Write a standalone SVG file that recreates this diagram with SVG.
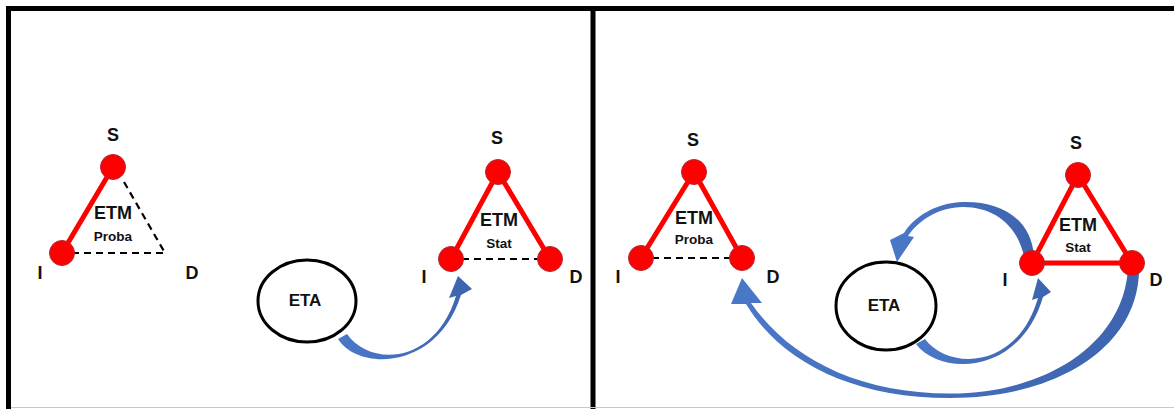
<svg xmlns="http://www.w3.org/2000/svg" width="1174" height="409" viewBox="0 0 1174 409">
<defs>
<style>
.frame{stroke:#000;stroke-width:5;fill:none}
.edge{stroke:#ff0000;stroke-width:5;stroke-linecap:round;fill:none}
.dash{stroke:#000;stroke-width:2.2;stroke-dasharray:7 5;fill:none}
.node{fill:#ff0000;stroke:#b02838;stroke-width:1}
.eta{fill:#fff;stroke:#000;stroke-width:3}
.arrow{fill:url(#blue)}
text{font-family:"Liberation Sans",Arial,sans-serif;font-weight:bold;fill:#111;text-anchor:middle}
.lbl{font-size:18px}
.etm{font-size:18px}
.sub{font-size:13.5px}
.etat{font-size:17px}
</style>
<linearGradient id="blue" x1="0" y1="0" x2="1" y2="0">
<stop offset="0" stop-color="#4a78c8"/>
<stop offset="1" stop-color="#3d64ae"/>
</linearGradient>
</defs>
<rect width="1174" height="409" fill="#fff"/>
<g id="frame">
<line class="frame" x1="6" y1="8.5" x2="1174" y2="8.5"/>
<line class="frame" x1="8.5" y1="6" x2="8.5" y2="409"/>
<line class="frame" x1="593" y1="6" x2="593" y2="409" stroke-width="4.5"/>
<line x1="11" y1="407.5" x2="1174" y2="407.5" stroke="#c8c8c8" stroke-width="1.2"/>
</g>
<g id="connectors">
<path class="arrow" d="M 338 339 C 358 371, 437 371, 461 295 L 472 289 L 458 276 L 449 298 L 456 296 C 435 365, 370 367, 347 334 Z"/>
<path class="arrow" d="M 1034 256 C 1031 218, 1000 201, 963 202 C 935 203, 914 217, 904 233 L 890 240 L 897 262 L 914 237 L 908 236 C 918 221, 938 207, 963 207 C 994 207, 1017 225, 1024 256 Z"/>
<path class="arrow" d="M 916 344 C 940 376, 1020 376, 1043 297 L 1051 292 L 1038 278 L 1032 300 L 1038 298 C 1017 371, 948 370, 925 339 Z"/>
<path class="arrow" d="M 1139 266 C 1141 345, 1060 398, 950 398 C 850 398, 780 360, 746 304 L 731 304 L 742 278 L 762 303 L 751 303 C 788 356, 855 393.5, 950 393.5 C 1050 393.5, 1126 340, 1128 266 Z"/>
</g>
<g id="tri-left-proba">
<line class="edge" x1="113" y1="167" x2="62" y2="253"/>
<line class="dash" x1="124" y1="182" x2="165" y2="253"/>
<line class="dash" x1="72" y1="253" x2="165" y2="253"/>
<circle class="node" cx="113" cy="167" r="12.5"/>
<circle class="node" cx="62" cy="253" r="12.5"/>
<text class="lbl" x="113" y="141">S</text>
<text class="lbl" x="40" y="279">I</text>
<text class="lbl" x="192" y="279">D</text>
<text class="etm" x="113" y="218.5">ETM</text>
<text class="sub" x="113" y="240.5">Proba</text>
</g>
<g id="eta-left">
<ellipse class="eta" cx="307" cy="301" rx="49" ry="41"/>
<text class="etat" x="305" y="306">ETA</text>
</g>
<g id="tri-left-stat">
<line class="edge" x1="498" y1="172" x2="451" y2="259"/>
<line class="edge" x1="498" y1="172" x2="550" y2="259"/>
<line class="dash" x1="462" y1="259" x2="540" y2="259"/>
<circle class="node" cx="498" cy="172" r="12.5"/>
<circle class="node" cx="451" cy="259" r="12.5"/>
<circle class="node" cx="550" cy="259" r="12.5"/>
<text class="lbl" x="497" y="144">S</text>
<text class="lbl" x="424" y="283">I</text>
<text class="lbl" x="576" y="283">D</text>
<text class="etm" x="499" y="226">ETM</text>
<text class="sub" x="499" y="247.5">Stat</text>
</g>
<g id="tri-right-proba">
<line class="edge" x1="694" y1="172" x2="641" y2="258"/>
<line class="edge" x1="694" y1="172" x2="742" y2="258"/>
<line class="dash" x1="652" y1="258" x2="732" y2="258"/>
<circle class="node" cx="694" cy="172" r="12.5"/>
<circle class="node" cx="641" cy="258" r="12.5"/>
<circle class="node" cx="742" cy="258" r="12.5"/>
<text class="lbl" x="693" y="146">S</text>
<text class="lbl" x="618" y="283">I</text>
<text class="lbl" x="773" y="283">D</text>
<text class="etm" x="694" y="224">ETM</text>
<text class="sub" x="694" y="243.5">Proba</text>
</g>
<g id="eta-right">
<ellipse class="eta" cx="886" cy="306" rx="50" ry="44"/>
<text class="etat" x="884" y="311">ETA</text>
</g>
<g id="tri-right-stat">
<line class="edge" x1="1078" y1="175" x2="1032" y2="263"/>
<line class="edge" x1="1078" y1="175" x2="1132" y2="263"/>
<line class="edge" x1="1032" y1="263" x2="1132" y2="263"/>
<circle class="node" cx="1078" cy="175" r="12.5"/>
<circle class="node" cx="1032" cy="263" r="12.5"/>
<circle class="node" cx="1132" cy="263" r="12.5"/>
<text class="lbl" x="1076" y="149">S</text>
<text class="lbl" x="1005" y="286">I</text>
<text class="lbl" x="1156" y="286">D</text>
<text class="etm" x="1078" y="231">ETM</text>
<text class="sub" x="1078" y="251.5">Stat</text>
</g>
</svg>
